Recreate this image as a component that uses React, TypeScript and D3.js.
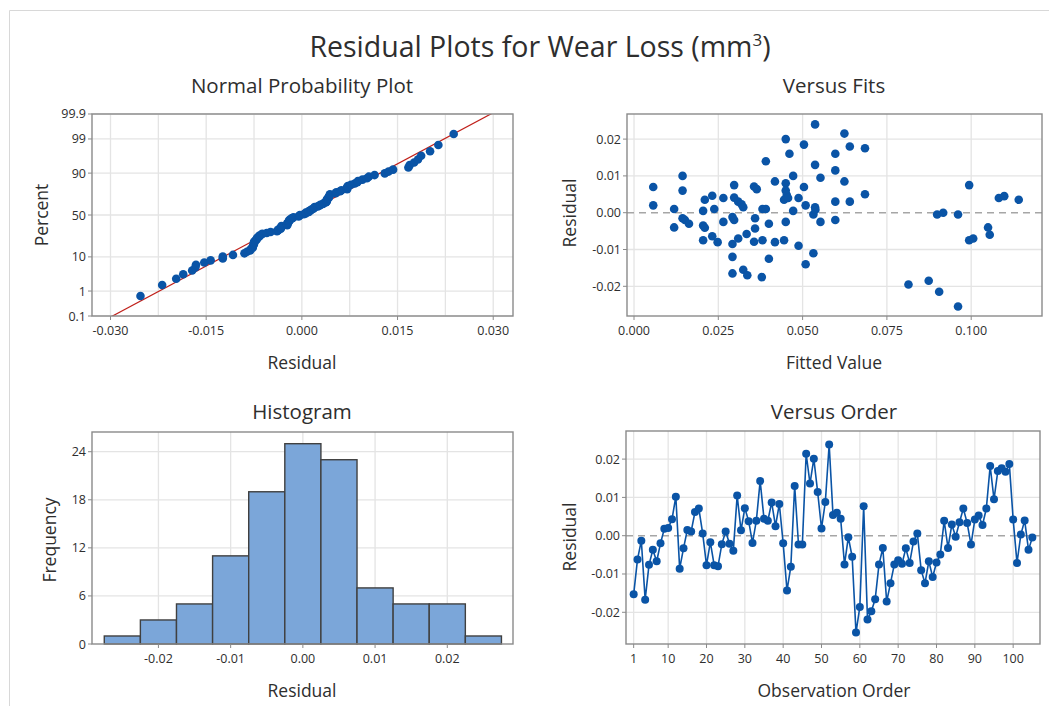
import React from "react";
import * as d3 from "d3";

// ---------- Data ----------
const orderResiduals = [
  -0.0153, -0.0062, -0.0013, -0.0167, -0.0076, -0.0037, -0.0067, -0.002, 0.0018, 0.002,
  0.0043, 0.0102, -0.0086, -0.0033, 0.0015, 0.0011, 0.0062, 0.0071, 0.0006, -0.0077,
  -0.0017, -0.0077, -0.008, -0.0022, 0.0011, -0.0021, -0.0039, 0.0105, 0.0014, 0.0072,
  0.0038, -0.0019, 0.0039, 0.0143, 0.0044, 0.0039, 0.0087, 0.0025, 0.0083, -0.002,
  -0.0143, -0.0081, 0.013, -0.0023, -0.0023, 0.0214, 0.0136, 0.0201, 0.0114, 0.0019,
  0.0088, 0.0238, 0.0054, 0.006, 0.0044, -0.0075, -0.0004, -0.0055, -0.0253, -0.0186,
  0.0077, -0.0219, -0.0197, -0.0166, -0.0075, -0.0032, -0.0172, -0.0124, -0.0075, -0.0064,
  -0.0073, -0.0033, -0.0071, -0.0015, 0.0006, -0.009, -0.0124, -0.0067, -0.0108, -0.007,
  -0.0049, 0.0039, -0.0032, 0.0029, -0.0003, 0.0035, 0.0071, 0.0033, -0.0023, 0.0042,
  0.0053, 0.0028, 0.0071, 0.0182, 0.0095, 0.0169, 0.0176, 0.0167, 0.0187, 0.0042,
  -0.0071, 0.0003, 0.004, -0.0037, -0.0005,
];

const fittedValues = [
  0.0057, 0.0057, 0.0119, 0.0119, 0.0144, 0.0144, 0.0144, 0.0151, 0.0163, 0.0205,
  0.0205, 0.021, 0.0205, 0.021, 0.0232, 0.0238, 0.0232, 0.0248, 0.0265, 0.0265,
  0.0297, 0.0297, 0.0292, 0.0297, 0.0309, 0.0319, 0.0324, 0.0292, 0.0309, 0.0292,
  0.0292, 0.0324, 0.0336, 0.0334, 0.0356, 0.0364, 0.0359, 0.0359, 0.0356, 0.0381,
  0.0381, 0.0391, 0.0379, 0.0391, 0.04, 0.04, 0.0418, 0.0418, 0.0445, 0.045,
  0.0461, 0.045, 0.045, 0.0453, 0.0445, 0.0457, 0.0472, 0.0472, 0.045, 0.0488,
  0.0488, 0.0504, 0.0504, 0.0509, 0.0509, 0.0537, 0.0537, 0.0537, 0.0532, 0.0532,
  0.0553, 0.0553, 0.0597, 0.0597, 0.0597, 0.0597, 0.0624, 0.0624, 0.064, 0.064,
  0.0685, 0.0685, 0.0814, 0.0874, 0.0905, 0.0961, 0.0899, 0.0917, 0.0961, 0.0994,
  0.0994, 0.1006, 0.105, 0.1055, 0.1082, 0.1098, 0.1141, 0.0538,
];
const fitResiduals = [
  0.007, 0.002, 0.001, -0.004, 0.01, 0.006, -0.0015, -0.002, -0.003, 0.0005,
  -0.0035, -0.0041, -0.0075, 0.0035, 0.0046, 0.001, -0.0064, -0.008, 0.004, -0.0025,
  0.0075, 0.0041, -0.0012, -0.002, 0.003, 0.0023, 0.0015, -0.0085, -0.007, -0.012,
  -0.0165, -0.0155, -0.017, -0.0058, 0.0071, 0.0064, -0.0015, -0.0043, -0.0079, -0.0075,
  0.001, 0.001, -0.0175, 0.014, -0.003, -0.0125, -0.008, 0.0085, -0.0075, 0.02,
  0.016, 0.008, 0.006, 0.0048, 0.0035, 0.004, 0.01, 0.0005, -0.0025, 0.004,
  -0.009, 0.0185, 0.007, 0.002, -0.014, 0.024, 0.013, 0.0015, -0.0005, -0.011,
  0.0095, -0.0025, 0.016, 0.0115, 0.003, -0.002, 0.0215, 0.0085, 0.018, 0.003,
  0.0175, 0.005, -0.0195, -0.0185, -0.0215, -0.0255, -0.0005, 0.0, -0.0005, 0.0075,
  -0.0075, -0.007, -0.004, -0.006, 0.004, 0.0045, 0.0035, 0.0008,
];

const histBinCenters = [-0.025, -0.02, -0.015, -0.01, -0.005, 0.0, 0.005, 0.01, 0.015, 0.02, 0.025];
const histCounts = [1, 3, 5, 11, 19, 25, 23, 7, 5, 5, 1];
const histBinWidth = 0.005;

const nppXTicks = [-0.03, -0.015, 0, 0.015, 0.03];
const nppXGrid = [-0.03, -0.0225, -0.015, -0.0075, 0, 0.0075, 0.015, 0.0225, 0.03];
const nppYTicks = [0.1, 1, 10, 50, 90, 99, 99.9];
const nppYLabels = ["0.1", "1", "10", "50", "90", "99", "99.9"];
const fitsXTicks = [0, 0.025, 0.05, 0.075, 0.1];
const residTicks = [-0.02, -0.01, 0, 0.01, 0.02];
const histXTicks = [-0.02, -0.01, 0, 0.01, 0.02];
const histYTicks = [0, 6, 12, 18, 24];
const orderXTicks = [1, 10, 20, 30, 40, 50, 60, 70, 80, 90, 100];

// ---------- helpers ----------
function probit(p: number): number {
  const a = [-39.69683028665376, 220.9460984245205, -275.9285104469687, 138.357751867269, -30.66479806614716, 2.506628277459239];
  const b = [-54.47609879822406, 161.5858368580409, -155.6989798598866, 66.80131188771972, -13.28068155288572];
  const c = [-0.007784894002430293, -0.3223964580411365, -2.400758277161838, -2.549732539343734, 4.374664141464968, 2.938163982698783];
  const d = [0.007784695709041462, 0.3224671290700398, 2.445134137142996, 3.754408661907416];
  const pl = 0.02425;
  if (p < pl) {
    const q = Math.sqrt(-2 * Math.log(p));
    return (((((c[0] * q + c[1]) * q + c[2]) * q + c[3]) * q + c[4]) * q + c[5]) / ((((d[0] * q + d[1]) * q + d[2]) * q + d[3]) * q + 1);
  }
  if (p > 1 - pl) {
    const q = Math.sqrt(-2 * Math.log(1 - p));
    return -(((((c[0] * q + c[1]) * q + c[2]) * q + c[3]) * q + c[4]) * q + c[5]) / ((((d[0] * q + d[1]) * q + d[2]) * q + d[3]) * q + 1);
  }
  const q = p - 0.5;
  const r = q * q;
  return ((((((a[0] * r + a[1]) * r + a[2]) * r + a[3]) * r + a[4]) * r + a[5]) * q) / (((((b[0] * r + b[1]) * r + b[2]) * r + b[3]) * r + b[4]) * r + 1);
}

const FONT = "'Segoe UI', 'Open Sans', 'Noto Sans', sans-serif";
const TEXT = "#2e2e2e";
const GRID = "#e4e4e4";
const BORDER = "#8a8a8a";
const BLUE = "#0a54a6";

type Rect = { x0: number; x1: number; y0: number; y1: number };

function Frame({ r }: { r: Rect }) {
  return <rect x={r.x0} y={r.y0} width={r.x1 - r.x0} height={r.y1 - r.y0} fill="none" stroke={BORDER} strokeWidth={1.4} />;
}

function XAxis({ r, ticks, scale, fmt }: { r: Rect; ticks: number[]; scale: (v: number) => number; fmt: (v: number) => string }) {
  return (
    <g>
      {ticks.map((t, i) => (
        <g key={i}>
          <line x1={scale(t)} x2={scale(t)} y1={r.y1} y2={r.y1 + 4} stroke={BORDER} strokeWidth={1} />
          <text x={scale(t)} y={r.y1 + 19} textAnchor="middle" fontSize={12.5} fill={TEXT} fontFamily={FONT}>
            {fmt(t)}
          </text>
        </g>
      ))}
    </g>
  );
}

function YAxis({ r, ticks, scale, labels }: { r: Rect; ticks: number[]; scale: (v: number) => number; labels: string[] }) {
  return (
    <g>
      {ticks.map((t, i) => (
        <g key={i}>
          <line x1={r.x0 - 4} x2={r.x0} y1={scale(t)} y2={scale(t)} stroke={BORDER} strokeWidth={1} />
          <text x={r.x0 - 6} y={scale(t) + 4.5} textAnchor="end" fontSize={12.5} fill={TEXT} fontFamily={FONT}>
            {labels[i]}
          </text>
        </g>
      ))}
    </g>
  );
}

function VGrid({ r, vals, scale }: { r: Rect; vals: number[]; scale: (v: number) => number }) {
  return (
    <g>
      {vals.map((v, i) => (
        <line key={i} x1={scale(v)} x2={scale(v)} y1={r.y0} y2={r.y1} stroke={GRID} strokeWidth={1.3} />
      ))}
    </g>
  );
}
function HGrid({ r, vals, scale }: { r: Rect; vals: number[]; scale: (v: number) => number }) {
  return (
    <g>
      {vals.map((v, i) => (
        <line key={i} x1={r.x0} x2={r.x1} y1={scale(v)} y2={scale(v)} stroke={GRID} strokeWidth={1.3} />
      ))}
    </g>
  );
}

function PanelTitle({ x, y, text }: { x: number; y: number; text: string }) {
  return (
    <text x={x} y={y} textAnchor="middle" fontSize={20.5} fill={TEXT} fontFamily={FONT}>
      {text}
    </text>
  );
}
function XLabel({ x, y, text }: { x: number; y: number; text: string }) {
  return (
    <text x={x} y={y} textAnchor="middle" fontSize={17.5} fill={TEXT} fontFamily={FONT}>
      {text}
    </text>
  );
}
function YLabel({ x, y, text }: { x: number; y: number; text: string }) {
  return (
    <text transform={`translate(${x},${y}) rotate(-90)`} textAnchor="middle" fontSize={17.5} fill={TEXT} fontFamily={FONT}>
      {text}
    </text>
  );
}

const fmt3 = (v: number) => (Math.abs(v) < 1e-12 ? "0.000" : d3.format(".3f")(v).replace("−", "-"));
const fmt2 = (v: number) => (Math.abs(v) < 1e-12 ? "0.00" : d3.format(".2f")(v).replace("−", "-"));

export default function App() {
  // ---- Normal probability plot ----
  const rN: Rect = { x0: 92, x1: 513, y0: 114, y1: 316 };
  const xN = d3.scaleLinear().domain([-0.0329, 0.0331]).range([rN.x0, rN.x1]);
  const zN = d3.scaleLinear().domain([-3.09, 3.09]).range([rN.y1, rN.y0]);
  const sorted = [...orderResiduals].sort((a, b) => a - b);
  const n = sorted.length;
  const nppPts = sorted.map((v, i) => ({ x: v, z: probit((i + 1 - 0.3) / (n + 0.4)) }));
  const mean = d3.mean(orderResiduals) as number;
  const sd = d3.deviation(orderResiduals) as number;
  const fitLine = d3.line<number>().x((z) => xN(mean + z * sd)).y((z) => zN(z));

  // ---- Versus fits ----
  const rF: Rect = { x0: 627, x1: 1042, y0: 114, y1: 316 };
  const xF = d3.scaleLinear().domain([-0.00208, 0.121]).range([rF.x0, rF.x1]);
  const yF = d3.scaleLinear().domain([-0.02807, 0.02682]).range([rF.y1, rF.y0]);

  // ---- Histogram ----
  const rH: Rect = { x0: 92, x1: 513, y0: 432, y1: 644 };
  const xH = d3.scaleLinear().domain([-0.0292, 0.0291]).range([rH.x0, rH.x1]);
  const yH = d3.scaleLinear().domain([0, 26.46]).range([rH.y1, rH.y0]);

  // ---- Versus order ----
  const rO: Rect = { x0: 626, x1: 1040, y0: 431, y1: 644 };
  const xO = d3.scaleLinear().domain([-1, 107]).range([rO.x0, rO.x1]);
  const yO = d3.scaleLinear().domain([-0.02828, 0.02734]).range([rO.y1, rO.y0]);
  const orderLine = d3.line<number>().x((_, i) => xO(i + 1)).y((v) => yO(v));

  return (
    <svg width={1049} height={706} style={{ position: "absolute", left: 0, top: 0, background: "#fff" }}>
      <rect x={0} y={0} width={1049} height={706} fill="#ffffff" />
      <line x1={9.5} x2={1049} y1={10.5} y2={10.5} stroke="#d8d8d8" strokeWidth={1} />
      <line x1={9.5} x2={9.5} y1={10.5} y2={706} stroke="#d8d8d8" strokeWidth={1} />

      <text x={540} y={57} textAnchor="middle" fontSize={28.5} fill={TEXT} fontFamily={FONT}>
        Residual Plots for Wear Loss (mm
        <tspan fontSize={17} dy={-11}>3</tspan>
        <tspan dy={11}>)</tspan>
      </text>

      {/* Normal probability plot */}
      <PanelTitle x={302} y={93} text="Normal Probability Plot" />
      <VGrid r={rN} vals={nppXGrid} scale={xN} />
      <HGrid r={rN} vals={nppYTicks.map((p) => probit(p / 100))} scale={zN} />
      <defs>
        <clipPath id="clipN">
          <rect x={rN.x0} y={rN.y0} width={rN.x1 - rN.x0} height={rN.y1 - rN.y0} />
        </clipPath>
      </defs>
      <path d={fitLine([-3.3, 3.3]) || ""} stroke="#c0201a" strokeWidth={1.2} fill="none" clipPath="url(#clipN)" />
      {nppPts.map((p, i) => (
        <circle key={i} cx={xN(p.x)} cy={zN(p.z)} r={4.3} fill={BLUE} />
      ))}
      <Frame r={rN} />
      <XAxis r={rN} ticks={nppXTicks} scale={xN} fmt={fmt3} />
      <YAxis r={rN} ticks={nppYTicks.map((p) => probit(p / 100))} scale={zN} labels={nppYLabels} />
      <XLabel x={302} y={369} text="Residual" />
      <YLabel x={48} y={215} text="Percent" />

      {/* Versus fits */}
      <PanelTitle x={834} y={93} text="Versus Fits" />
      <VGrid r={rF} vals={fitsXTicks} scale={xF} />
      <HGrid r={rF} vals={residTicks.filter((t) => t !== 0)} scale={yF} />
      <line x1={rF.x0} x2={rF.x1} y1={yF(0)} y2={yF(0)} stroke="#a6a6a6" strokeWidth={1.6} strokeDasharray="7,5" />
      {fittedValues.map((f, i) => (
        <circle key={i} cx={xF(f)} cy={yF(fitResiduals[i])} r={4.3} fill={BLUE} />
      ))}
      <Frame r={rF} />
      <XAxis r={rF} ticks={fitsXTicks} scale={xF} fmt={fmt3} />
      <YAxis r={rF} ticks={residTicks} scale={yF} labels={residTicks.map(fmt2)} />
      <XLabel x={834} y={369} text="Fitted Value" />
      <YLabel x={576} y={213} text="Residual" />

      {/* Histogram */}
      <PanelTitle x={302} y={419} text="Histogram" />
      <VGrid r={rH} vals={histXTicks} scale={xH} />
      <HGrid r={rH} vals={histYTicks.filter((t) => t !== 0)} scale={yH} />
      {histBinCenters.map((c, i) => (
        <rect
          key={i}
          x={xH(c - histBinWidth / 2)}
          y={yH(histCounts[i])}
          width={xH(c + histBinWidth / 2) - xH(c - histBinWidth / 2)}
          height={yH(0) - yH(histCounts[i])}
          fill="#7ba6d9"
          stroke="#404040"
          strokeWidth={1.4}
        />
      ))}
      <Frame r={rH} />
      <XAxis r={rH} ticks={histXTicks} scale={xH} fmt={fmt2} />
      <YAxis r={rH} ticks={histYTicks} scale={yH} labels={histYTicks.map(String)} />
      <XLabel x={302} y={697} text="Residual" />
      <YLabel x={56} y={540} text="Frequency" />

      {/* Versus order */}
      <PanelTitle x={834} y={419} text="Versus Order" />
      <VGrid r={rO} vals={orderXTicks} scale={xO} />
      <HGrid r={rO} vals={residTicks.filter((t) => t !== 0)} scale={yO} />
      <line x1={rO.x0} x2={rO.x1} y1={yO(0)} y2={yO(0)} stroke="#a6a6a6" strokeWidth={1.6} strokeDasharray="7,5" />
      <path d={orderLine(orderResiduals) || ""} stroke={BLUE} strokeWidth={1.6} fill="none" />
      {orderResiduals.map((v, i) => (
        <circle key={i} cx={xO(i + 1)} cy={yO(v)} r={4} fill={BLUE} />
      ))}
      <Frame r={rO} />
      <XAxis r={rO} ticks={orderXTicks} scale={xO} fmt={(v) => String(v)} />
      <YAxis r={rO} ticks={residTicks} scale={yO} labels={residTicks.map(fmt2)} />
      <XLabel x={834} y={697} text="Observation Order" />
      <YLabel x={576} y={537} text="Residual" />
    </svg>
  );
}
